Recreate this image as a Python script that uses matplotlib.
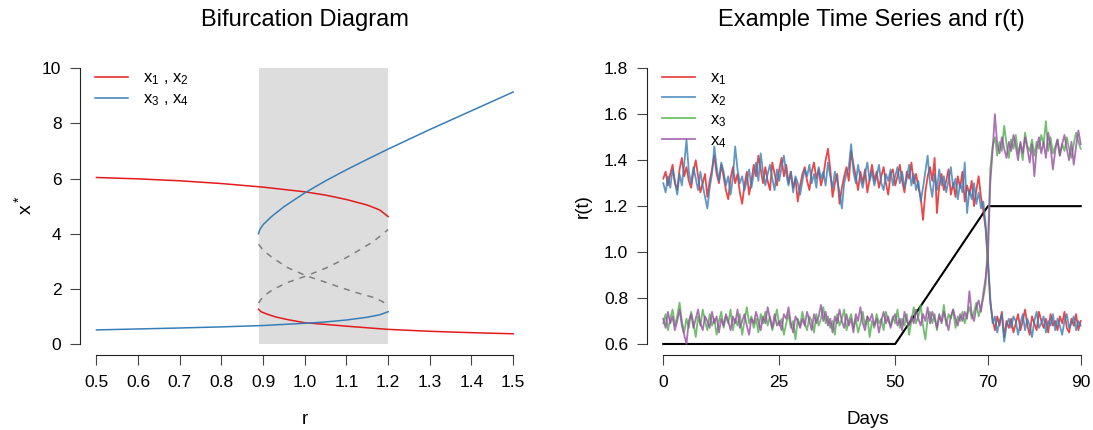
import numpy as np
import matplotlib
matplotlib.use("Agg")
import matplotlib.pyplot as plt

plt.rcParams.update({
    "font.family": ["Liberation Sans", "DejaVu Sans"],
    "mathtext.fontset": "custom",
    "mathtext.rm": "Liberation Sans",
    "mathtext.it": "Liberation Sans:italic",
    "mathtext.default": "regular",
})

# ---------------- Bifurcation diagram data ----------------
shade_lo, shade_hi = 0.889, 1.2

r_red_upper = [0.5, 0.6, 0.7, 0.8, 0.9, 1.0, 1.05, 1.1, 1.15, 1.18, 1.2]
x_red_upper = [6.04, 5.99, 5.92, 5.82, 5.69, 5.52, 5.40, 5.24, 5.04, 4.86, 4.62]

r_red_lower = [0.889, 0.895, 0.91, 0.93, 0.96, 1.0, 1.05, 1.1, 1.2, 1.3, 1.4, 1.5]
x_red_lower = [1.26, 1.17, 1.08, 0.98, 0.88, 0.77, 0.71, 0.645, 0.53, 0.46, 0.41, 0.37]

r_blue_lower = [0.5, 0.6, 0.7, 0.8, 0.9, 1.0, 1.05, 1.1, 1.15, 1.18, 1.2]
x_blue_lower = [0.51, 0.545, 0.58, 0.62, 0.67, 0.75, 0.80, 0.87, 0.97, 1.06, 1.17]

r_blue_upper = [0.889, 0.892, 0.9, 0.92, 0.95, 1.0, 1.05, 1.1, 1.15, 1.2, 1.3, 1.4, 1.5]
x_blue_upper = [4.0, 4.15, 4.33, 4.62, 4.98, 5.48, 5.92, 6.32, 6.70, 7.07, 7.78, 8.46, 9.14]

r_unst_a = [0.889, 0.9, 0.924, 0.96, 1.004, 1.05, 1.084, 1.12, 1.164, 1.185, 1.2]
x_unst_a = [3.62, 3.40, 3.11, 2.76, 2.47, 2.24, 2.06, 1.88, 1.69, 1.55, 1.40]

r_unst_b = [0.889, 0.895, 0.905, 0.924, 0.96, 1.004, 1.05, 1.084, 1.12, 1.164, 1.2]
x_unst_b = [1.48, 1.62, 1.78, 1.98, 2.24, 2.47, 2.75, 3.00, 3.31, 3.71, 4.15]

# ---------------- Time series data (sampled every half day) ----------------
days = np.arange(0, 90.5, 0.5)

x1 = [1.32, 1.35, 1.29, 1.34, 1.38, 1.30, 1.27, 1.36, 1.41, 1.33,
      1.37, 1.31, 1.28, 1.35, 1.40, 1.33, 1.26, 1.30, 1.34, 1.24,
      1.31, 1.36, 1.42, 1.34, 1.30, 1.38, 1.33, 1.27, 1.23, 1.32,
      1.37, 1.30, 1.34, 1.26, 1.21, 1.29, 1.35, 1.25, 1.31, 1.38,
      1.33, 1.42, 1.36, 1.30, 1.37, 1.31, 1.27, 1.39, 1.34, 1.29,
      1.36, 1.41, 1.33, 1.38, 1.30, 1.35, 1.28, 1.32, 1.22, 1.29,
      1.34, 1.37, 1.31, 1.27, 1.35, 1.39, 1.32, 1.36, 1.29, 1.33,
      1.40, 1.45, 1.36, 1.24, 1.30, 1.34, 1.21, 1.28, 1.33, 1.37,
      1.31, 1.44, 1.38, 1.33, 1.27, 1.35, 1.30, 1.36, 1.26, 1.32,
      1.38, 1.31, 1.35, 1.28, 1.33, 1.37, 1.30, 1.25, 1.34, 1.36,
      1.29, 1.33, 1.38, 1.31, 1.26, 1.35, 1.32, 1.39, 1.30, 1.34,
      1.28, 1.24, 1.14, 1.26, 1.33, 1.37, 1.31, 1.41, 1.17, 1.29,
      1.34, 1.27, 1.31, 1.36, 1.25, 1.30, 1.24, 1.33, 1.28, 1.35,
      1.22, 1.29, 1.25, 1.31, 1.20, 1.27, 1.33, 1.24, 1.18, 1.10,
      0.95, 0.78, 0.71, 0.66, 0.72, 0.68, 0.74, 0.63, 0.70, 0.67,
      0.71, 0.65, 0.69, 0.73, 0.66, 0.70, 0.75, 0.68, 0.64, 0.72,
      0.69, 0.66, 0.74, 0.70, 0.67, 0.71, 0.65, 0.73, 0.68, 0.70,
      0.66, 0.72, 0.69, 0.74, 0.67, 0.65, 0.71, 0.68, 0.73, 0.66,
      0.70]

x2 = [1.30, 1.26, 1.33, 1.28, 1.36, 1.31, 1.25, 1.34, 1.29, 1.38,
      1.49, 1.35, 1.30, 1.37, 1.32, 1.27, 1.35, 1.29, 1.24, 1.19,
      1.28, 1.34, 1.46, 1.37, 1.31, 1.39, 1.35, 1.29, 1.33, 1.25,
      1.32, 1.46, 1.36, 1.30, 1.33, 1.27, 1.31, 1.36, 1.28, 1.34,
      1.39, 1.31, 1.43, 1.35, 1.29, 1.34, 1.38, 1.32, 1.27, 1.36,
      1.31, 1.37, 1.42, 1.34, 1.29, 1.35, 1.26, 1.33, 1.30, 1.25,
      1.31, 1.36, 1.33, 1.38, 1.30, 1.34, 1.28, 1.37, 1.32, 1.35,
      1.29, 1.39, 1.33, 1.28, 1.35, 1.31, 1.26, 1.19, 1.30, 1.34,
      1.37, 1.47, 1.35, 1.30, 1.38, 1.32, 1.28, 1.34, 1.39, 1.31,
      1.35, 1.29, 1.33, 1.38, 1.30, 1.27, 1.34, 1.31, 1.36, 1.29,
      1.33, 1.37, 1.30, 1.35, 1.28, 1.32, 1.38, 1.29, 1.34, 1.27,
      1.31, 1.22, 1.28, 1.35, 1.42, 1.30, 1.24, 1.34, 1.27, 1.36,
      1.29, 1.33, 1.26, 1.31, 1.37, 1.28, 1.32, 1.23, 1.30, 1.26,
      1.39, 1.17, 1.27, 1.23, 1.30, 1.21, 1.26, 1.19, 1.22, 1.12,
      0.97, 0.80, 0.69, 0.72, 0.65, 0.70, 0.73, 0.61, 0.68, 0.71,
      0.67, 0.72, 0.70, 0.64, 0.69, 0.73, 0.66, 0.71, 0.68, 0.63,
      0.70, 0.74, 0.67, 0.69, 0.72, 0.65, 0.70, 0.68, 0.73, 0.66,
      0.71, 0.68, 0.64, 0.70, 0.73, 0.67, 0.69, 0.72, 0.66, 0.70,
      0.68]

x3 = [0.69, 0.73, 0.66, 0.71, 0.75, 0.68, 0.72, 0.78, 0.70, 0.65,
      0.71, 0.67, 0.74, 0.69, 0.63, 0.72, 0.68, 0.75, 0.70, 0.66,
      0.73, 0.68, 0.71, 0.64, 0.70, 0.74, 0.67, 0.72, 0.69, 0.75,
      0.66, 0.71, 0.68, 0.73, 0.64, 0.70, 0.76, 0.69, 0.72, 0.67,
      0.71, 0.65, 0.73, 0.69, 0.74, 0.68, 0.72, 0.66, 0.70, 0.75,
      0.68, 0.71, 0.64, 0.69, 0.73, 0.67, 0.70, 0.62, 0.71, 0.68,
      0.74, 0.69, 0.66, 0.72, 0.70, 0.65, 0.73, 0.68, 0.71, 0.76,
      0.69, 0.72, 0.67, 0.70, 0.64, 0.73, 0.68, 0.71, 0.75, 0.66,
      0.70, 0.73, 0.67, 0.71, 0.65, 0.69, 0.74, 0.68, 0.72, 0.63,
      0.70, 0.67, 0.73, 0.69, 0.71, 0.66, 0.74, 0.70, 0.68, 0.72,
      0.69, 0.75, 0.67, 0.71, 0.68, 0.73, 0.64, 0.70, 0.76, 0.69,
      0.72, 0.77, 0.68, 0.62, 0.71, 0.74, 0.69, 0.73, 0.66, 0.72,
      0.70, 0.77, 0.68, 0.73, 0.71, 0.75, 0.67, 0.72, 0.70, 0.74,
      0.69, 0.73, 0.76, 0.71, 0.74, 0.78, 0.72, 0.76, 0.80, 0.86,
      1.05, 1.36, 1.46, 1.50, 1.42, 1.48, 1.44, 1.55, 1.47, 1.41,
      1.49, 1.45, 1.51, 1.43, 1.47, 1.40, 1.52, 1.46, 1.44, 1.49,
      1.42, 1.48, 1.45, 1.51, 1.47, 1.57, 1.44, 1.50, 1.43, 1.46,
      1.49, 1.42, 1.47, 1.44, 1.50, 1.45, 1.41, 1.47, 1.52, 1.48,
      1.45]

x4 = [0.71, 0.67, 0.74, 0.69, 0.72, 0.66, 0.70, 0.75, 0.68, 0.64,
      0.60, 0.70, 0.73, 0.67, 0.71, 0.75, 0.69, 0.66, 0.72, 0.70,
      0.67, 0.74, 0.69, 0.72, 0.65, 0.71, 0.68, 0.73, 0.70, 0.66,
      0.72, 0.69, 0.75, 0.67, 0.70, 0.73, 0.68, 0.64, 0.71, 0.69,
      0.74, 0.70, 0.66, 0.72, 0.69, 0.76, 0.71, 0.67, 0.73, 0.68,
      0.70, 0.66, 0.73, 0.71, 0.76, 0.69, 0.65, 0.72, 0.70, 0.67,
      0.71, 0.68, 0.74, 0.70, 0.66, 0.73, 0.69, 0.72, 0.77, 0.70,
      0.74, 0.68, 0.71, 0.65, 0.72, 0.69, 0.75, 0.70, 0.67, 0.73,
      0.68, 0.71, 0.65, 0.73, 0.70, 0.76, 0.69, 0.66, 0.72, 0.70,
      0.73, 0.68, 0.71, 0.65, 0.70, 0.74, 0.69, 0.72, 0.67, 0.71,
      0.73, 0.68, 0.71, 0.66, 0.74, 0.70, 0.68, 0.72, 0.69, 0.75,
      0.71, 0.68, 0.73, 0.70, 0.76, 0.69, 0.74, 0.71, 0.67, 0.73,
      0.69, 0.74, 0.70, 0.66, 0.72, 0.75, 0.71, 0.68, 0.73, 0.70,
      0.74, 0.71, 0.83, 0.73, 0.70, 0.76, 0.79, 0.74, 0.82, 0.89,
      0.98, 1.30, 1.44, 1.60, 1.47, 1.43, 1.50, 1.45, 1.41, 1.48,
      1.44, 1.51, 1.46, 1.40, 1.48, 1.43, 1.50, 1.45, 1.39, 1.47,
      1.33, 1.45, 1.50, 1.43, 1.48, 1.41, 1.52, 1.46, 1.36, 1.44,
      1.49, 1.42, 1.47, 1.51, 1.45, 1.40, 1.48, 1.38, 1.46, 1.53,
      1.47]

r_days = [0, 50, 70, 90]
r_vals = [0.6, 0.6, 1.2, 1.2]

left_xticks = [0.5, 0.6, 0.7, 0.8, 0.9, 1.0, 1.1, 1.2, 1.3, 1.4, 1.5]
left_yticks = [0, 2, 4, 6, 8, 10]
right_xticks = [0, 25, 50, 70, 90]
right_yticks = [0.6, 0.8, 1.0, 1.2, 1.4, 1.6, 1.8]

RED, BLUE, GREEN, PURPLE = "#E41A1C", "#377EB8", "#4DAF4A", "#984EA3"

W, H = 1093, 430
fig = plt.figure(figsize=(W / 100, H / 100), dpi=100)

def px_axes(x0, x1, ytop, ybot):
    return [x0 / W, (H - ybot) / H, (x1 - x0) / W, (ybot - ytop) / H]

def style_axes(ax):
    for s in ("top", "right"):
        ax.spines[s].set_visible(False)
    for s in ("left", "bottom"):
        ax.spines[s].set_linewidth(0.8)
        ax.spines[s].set_color("#222222")
    ax.tick_params(direction="out", length=7.2, width=0.8, color="#444444",
                   labelsize=12.5, pad=6)
    ax.tick_params(axis="x", pad=7)

# ---------------- Left panel ----------------
axL = fig.add_axes(px_axes(79.8, 529.8, 57.3, 355.0))
axL.fill_between([shade_lo, shade_hi], 0, 10, color="#DDDDDD", lw=0, zorder=0)
axL.plot(r_red_upper, x_red_upper, color=RED, lw=1.1, label="$x_1$ , $x_2$")
axL.plot(r_blue_upper, x_blue_upper, color=BLUE, lw=1.1, label="$x_3$ , $x_4$")
axL.plot(r_red_lower, x_red_lower, color=RED, lw=1.1)
axL.plot(r_blue_lower, x_blue_lower, color=BLUE, lw=1.1)
axL.plot(r_unst_a, x_unst_a, color="#7f7f7f", lw=1.1, ls=(0, (4, 4)))
axL.plot(r_unst_b, x_unst_b, color="#7f7f7f", lw=1.1, ls=(0, (4, 4)))
axL.set_xlim(0.46, 1.54)
axL.set_ylim(-0.4, 10.4)
axL.set_xticks(left_xticks)
axL.set_xticklabels([f"{v:.1f}" for v in left_xticks])
axL.set_yticks(left_yticks)
axL.spines["left"].set_bounds(0, 10)
axL.spines["bottom"].set_bounds(0.5, 1.5)
style_axes(axL)
axL.legend(loc="upper left", bbox_to_anchor=(0.034, 0.955), frameon=False,
           fontsize=12, handlelength=1.96, handletextpad=0.92, labelspacing=0.26,
           borderpad=0, borderaxespad=0)
fig.text(304.8 / W, 1 - 20 / H, "Bifurcation Diagram", ha="center", va="center",
         fontsize=17)
fig.text(304.8 / W, 1 - 420 / H, "r", ha="center", va="center", fontsize=13.5)
fig.text(24 / W, 1 - 205 / H, "$x^*$", ha="center", va="center", fontsize=14,
         rotation=90)

# ---------------- Right panel ----------------
axR = fig.add_axes(px_axes(646.6, 1097.4, 57.3, 355.0))
axR.plot(r_days, r_vals, color="black", lw=1.5, zorder=1)
axR.plot(days, x1, color=RED, lw=1.3, alpha=0.8, label="$x_1$", zorder=2)
axR.plot(days, x2, color=BLUE, lw=1.3, alpha=0.8, label="$x_2$", zorder=2)
axR.plot(days, x3, color=GREEN, lw=1.3, alpha=0.8, label="$x_3$", zorder=2)
axR.plot(days, x4, color=PURPLE, lw=1.3, alpha=0.8, label="$x_4$", zorder=2)
axR.set_xlim(-3.6, 93.6)
axR.set_ylim(0.552, 1.848)
axR.set_xticks(right_xticks)
axR.set_yticks(right_yticks)
axR.set_yticklabels([f"{v:.1f}" for v in right_yticks])
axR.spines["left"].set_bounds(0.6, 1.8)
axR.spines["bottom"].set_bounds(0, 90)
style_axes(axR)
axR.legend(loc="upper left", bbox_to_anchor=(0.034, 0.956), frameon=False,
           fontsize=12, handlelength=1.96, handletextpad=0.92, labelspacing=0.25,
           borderpad=0, borderaxespad=0)
fig.text(871.5 / W, 1 - 20 / H, "Example Time Series and r(t)", ha="center",
         va="center", fontsize=17)
fig.text(868 / W, 1 - 420 / H, "Days", ha="center", va="center", fontsize=13.5)
fig.text(583 / W, 1 - 206 / H, "r(t)", ha="center", va="center", fontsize=13.5,
         rotation=90)

fig.savefig("out.png", dpi=100)
